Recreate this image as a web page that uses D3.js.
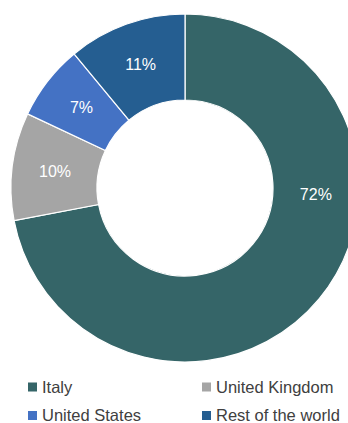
<!DOCTYPE html>
<html><head><meta charset="utf-8">
<script src="https://cdn.jsdelivr.net/npm/d3@7"></script>
<style>body{margin:0;background:#fff;}svg{display:block;}</style>
</head><body><div id="c"></div>
<script>
const categories = ["Italy", "United Kingdom", "United States", "Rest of the world"];
const values = [72, 10, 7, 11];
const labels = ["72%", "10%", "7%", "11%"];
const colors = ["#356568", "#A5A5A5", "#4472C4", "#255E91"];

const W = 348, H = 423;
const svg = d3.select("#c").append("svg").attr("width", W).attr("height", H);
const cx = 185, cy = 188, rO = 174, rI = 88;
const g = svg.append("g").attr("transform", `translate(${cx},${cy})`);
const pie = d3.pie().sort(null).value(d => d)(values);
const arc = d3.arc().innerRadius(rI).outerRadius(rO);
g.selectAll("path").data(pie).join("path")
  .attr("d", arc).attr("fill", (d, i) => colors[i])
  .attr("stroke", "#fff").attr("stroke-width", 1.2);

const labelArc = d3.arc().innerRadius(rI).outerRadius(rO);
g.selectAll("text.lbl").data(pie).join("text").attr("class", "lbl")
  .attr("transform", (d, i) => {
    let c;
    if (i === 0) { // large slice label placed near the right edge
      const a = Math.PI * 0.515, r = (rI + rO) / 2;
      c = [r * Math.sin(a), -r * Math.cos(a)];
    } else c = labelArc.centroid(d);
    return `translate(${c[0]},${c[1]})`;
  })
  .attr("text-anchor", "middle").attr("dy", "0.35em")
  .attr("fill", "#fff").attr("font-family", "Liberation Sans, Arial, sans-serif")
  .attr("font-size", 16).text((d, i) => labels[i]);

const leg = svg.append("g");
const lx = [28, 202], ly = [387, 415.5];
categories.forEach((c, i) => {
  const x = lx[i % 2], y = ly[Math.floor(i / 2)];
  leg.append("rect").attr("x", x).attr("y", y - 4.5).attr("width", 9).attr("height", 9).attr("fill", colors[i]);
  leg.append("text").attr("x", x + 14).attr("y", y).attr("dy", "0.35em")
    .attr("font-family", "Liberation Sans, Arial, sans-serif").attr("font-size", 16.5)
    .attr("fill", "#404040").text(c);
});
</script></body></html>
